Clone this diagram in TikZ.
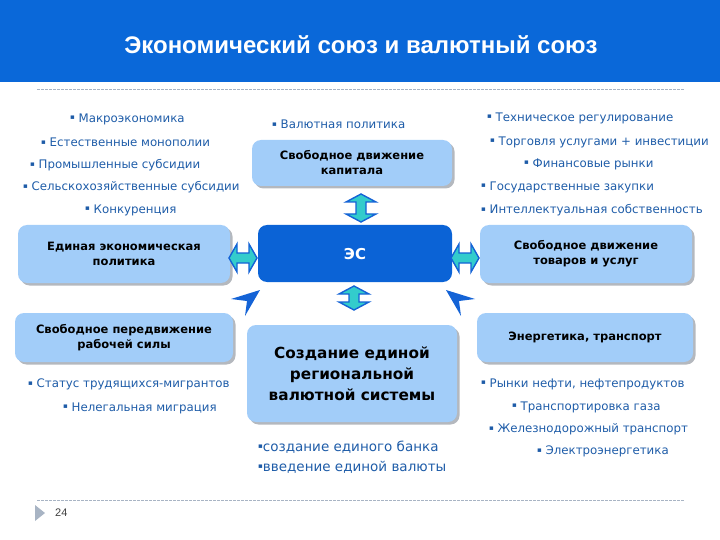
\documentclass[tikz,border=0pt]{standalone}
\usepackage{fontspec}
\setmainfont{DejaVu Sans}
\newfontfamily\titlefont{Liberation Sans}
\newfontfamily\listfont{DejaVu Sans}
\definecolor{banner}{HTML}{0A68D9}
\definecolor{darkbox}{HTML}{0B63D6}
\definecolor{lightbox}{HTML}{A2CDF9}
\definecolor{shadowc}{HTML}{B4B8BE}
\definecolor{listc}{HTML}{1E5CA8}
\definecolor{arrfill}{HTML}{33CCCC}
\definecolor{arrblue}{HTML}{1463D6}
\definecolor{dashc}{HTML}{A8B4C4}
\newcommand{\bul}{\raisebox{0.18em}{\fontsize{7}{8}\selectfont ▪}}
\tikzset{
  lbox/.style={fill=lightbox, rounded corners=9pt, draw=none},
  sh/.style={fill=shadowc, rounded corners=9pt},
  boxtxt/.style={font=\bfseries\fontsize{11.5}{15}\selectfont, align=center, text=black},
  li/.style={anchor=west, text=listc, font=\listfont\fontsize{11.8}{13}\selectfont, inner sep=0pt},
  arr/.style={fill=arrfill, draw=arrblue, line width=1.4pt, line join=miter},
  chev/.style={fill=arrblue, draw=none},
  dline/.style={draw=dashc, dash pattern=on 3pt off 1pt, line width=0.6pt}
}
\newcommand{\mybox}[5]{%
  \fill[sh] (#1+2.5,#2+2.5) rectangle (#3+2.5,#4+2.5);
  \fill[lbox] (#1,#2) rectangle (#3,#4);
  \node[boxtxt] (#5) at ({(#1+#3)/2},{(#2+#4)/2}) {};
}
\begin{document}
\begin{tikzpicture}[x=1pt,y=-1pt]
\useasboundingbox (0,0) rectangle (720,540);
% banner
\fill[banner] (0,0) rectangle (720,82);
\node[text=white, font=\titlefont\bfseries\fontsize{24}{27}\selectfont] (title) at (361,45) {Экономический союз и валютный союз};
% dashed lines
\coordinate (d1a) at (37,89); \coordinate (d1b) at (685,89);
\draw[dline] (d1a) -- (d1b);
\coordinate (d2a) at (37,500); \coordinate (d2b) at (685,500);
\draw[dline] (d2a) -- (d2b);
% page number
\fill[dashc] (35,505) -- (45,513) -- (35,521) -- cycle;
\node[anchor=west, font=\titlefont\fontsize{11}{12}\selectfont, text=black!75, inner sep=0pt] (pnum) at (55,513) {24};

% boxes
\mybox{252}{140}{452}{186}{capb}
\node[boxtxt] at (capb) {Свободное движение\\капитала};
\mybox{18}{225}{230}{283}{lb1}
\node[boxtxt] at (lb1) {Единая экономическая\\политика};
\mybox{480}{225}{692}{283}{rb1}
\node[boxtxt] at (rb1) {Свободное движение\\товаров и услуг};
\mybox{15}{313}{233}{362}{lb2}
\node[boxtxt] at (lb2) {Свободное передвижение\\рабочей силы};
\mybox{477}{313}{693}{362}{rb2}
\node[boxtxt] at (rb2) {Энергетика, транспорт};
\mybox{247}{325}{457}{422}{cb}
\node[boxtxt, font=\bfseries\fontsize{15.3}{21}\selectfont] at (cb) {Создание единой\\региональной\\валютной системы};
% ES box
\fill[darkbox, rounded corners=9pt] (258,225) rectangle (452,282);
\node[text=white, font=\bfseries\fontsize{15}{16}\selectfont] (es) at (355,254) {ЭС};

% vertical double arrows
\begin{scope}[shift={(361,208)}]
\draw[arr] (0,-14) -- (15,-6) -- (5,-6) -- (5,6) -- (15,6) -- (0,14) -- (-15,6) -- (-5,6) -- (-5,-6) -- (-15,-6) -- cycle;
\end{scope}
\begin{scope}[shift={(354,298)}]
\draw[arr] (0,-12) -- (15,-4) -- (5,-4) -- (5,4) -- (15,4) -- (0,12) -- (-15,4) -- (-5,4) -- (-5,-4) -- (-15,-4) -- cycle;
\end{scope}
% horizontal double arrows
\begin{scope}[shift={(243,258)}]
\draw[arr] (-14,0) -- (-6,-14) -- (-6,-5) -- (6,-5) -- (6,-14) -- (14,0) -- (6,14) -- (6,5) -- (-6,5) -- (-6,14) -- cycle;
\end{scope}
\begin{scope}[shift={(465,258)}]
\draw[arr] (-14,0) -- (-6,-14) -- (-6,-5) -- (6,-5) -- (6,-14) -- (14,0) -- (6,14) -- (6,5) -- (-6,5) -- (-6,14) -- cycle;
\end{scope}
% chevrons
\fill[chev] (260,290) -- (231,299) -- (247,301) -- (245,316) -- cycle;
\fill[chev] (446,290) -- (475,299) -- (459,301) -- (461,316) -- cycle;

% lists left top
\node[li] (l1) at (70,119) {\bul\ Макроэкономика};
\node[li] (l2) at (41,142) {\bul\ Естественные монополии};
\node[li] (l3) at (30,165) {\bul\ Промышленные субсидии};
\node[li] (l4) at (23,187) {\bul\ Сельскохозяйственные субсидии};
\node[li] (l5) at (85,210) {\bul\ Конкуренция};
% center top
\node[li] (c1) at (272,124) {\bul\ Валютная политика};
% right top
\node[li] (r1) at (487,118) {\bul\ Техническое регулирование};
\node[li] (r2) at (490,142) {\bul\ Торговля услугами + инвестиции};
\node[li] (r3) at (524,164) {\bul\ Финансовые рынки};
\node[li] (r4) at (481,187) {\bul\ Государственные закупки};
\node[li] (r5) at (481,210) {\bul\ Интеллектуальная собственность};
% left bottom
\node[li] (lb1a) at (28,384) {\bul\ Статус трудящихся-мигрантов};
\node[li] (lb2a) at (63,408) {\bul\ Нелегальная миграция};
% center bottom
\node[li, font=\listfont\fontsize{13.5}{15}\selectfont] (cb1) at (258,447) {\bul создание единого банка};
\node[li, font=\listfont\fontsize{13.5}{15}\selectfont] (cb2) at (258,467) {\bul введение единой валюты};
% right bottom
\node[li] (rb1a) at (481,384) {\bul\ Рынки нефти, нефтепродуктов};
\node[li] (rb2a) at (512,407) {\bul\ Транспортировка газа};
\node[li] (rb3a) at (489,429) {\bul\ Железнодорожный транспорт};
\node[li] (rb4a) at (537,451) {\bul\ Электроэнергетика};
\end{tikzpicture}
\end{document}
